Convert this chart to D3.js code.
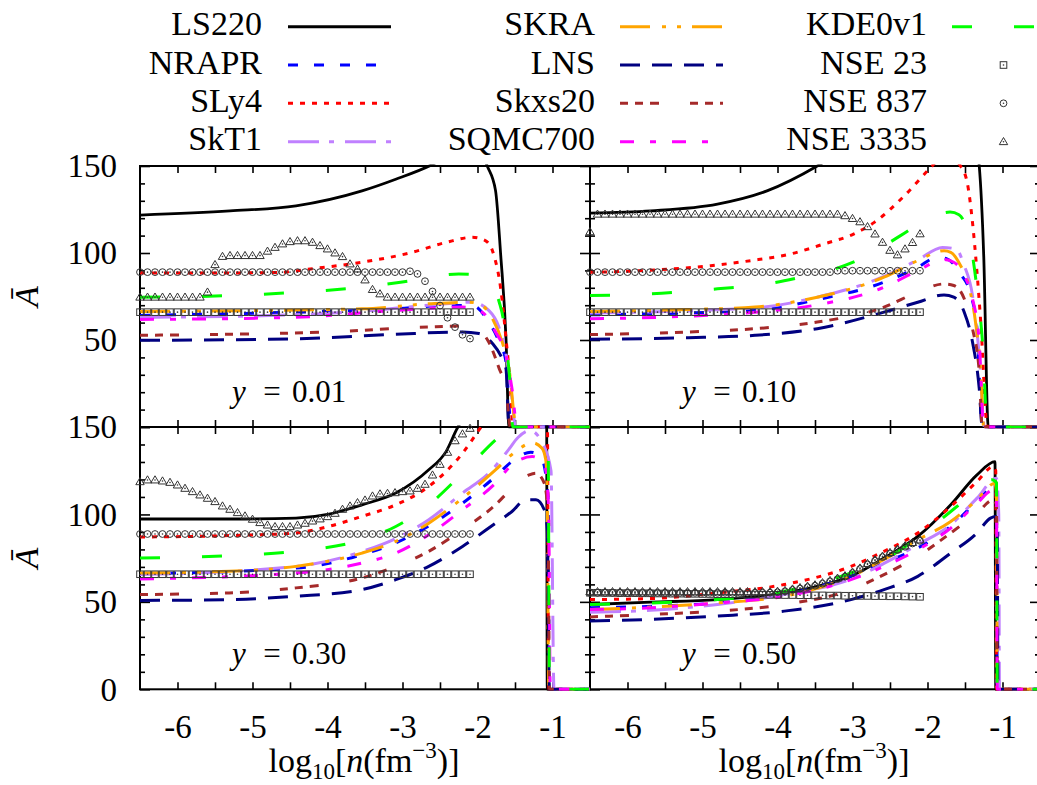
<!DOCTYPE html>
<html><head><meta charset="utf-8">
<script src="https://cdn.jsdelivr.net/npm/d3@7"></script>
<style>
body{margin:0;background:#fff}
svg{display:block}
</style>
</head><body>
<svg id="c" width="1037" height="785" font-family="'Liberation Serif','DejaVu Serif','Noto Serif',serif"></svg>
<script>
// ---------------- DATA ----------------
const seriesNames = ["LS220","NRAPR","SLy4","SkT1","SKRA","LNS","Skxs20","SQMC700","KDE0v1"];
const nseNames = ["NSE 23","NSE 837","NSE 3335"];
const panelYValues = ["0.01","0.10","0.30","0.50"];
const xTickValues = [-6,-5,-4,-3,-2,-1];
const xHalfTicks = [-6,-5.5,-5,-4.5,-4,-3.5,-3,-2.5,-2,-1.5,-1];
const yMajorTicks = [0,50,100,150];
const yMinorTicks = [10,20,30,40,60,70,80,90,110,120,130,140];

// log10 n grid of the NSE points
const nseLogN = [-6.5,-6.4,-6.3,-6.2,-6.1,-6.0,-5.9,-5.8,-5.7,-5.6,-5.5,-5.4,-5.3,-5.2,-5.1,-5.0,-4.9,-4.8,-4.7,-4.6,-4.5,-4.4,-4.3,-4.2,-4.1,-4.0,-3.9,-3.8,-3.7,-3.6,-3.5,-3.4,-3.3,-3.2,-3.1,-3.0,-2.9,-2.8,-2.7,-2.6,-2.5,-2.4,-2.3,-2.2,-2.1];

// ---- y = 0.01 ----
const LS220_y001 = [[-6.5,121.8],[-5.3,124.2],[-4.42,127.1],[-3.54,135.7],[-3.09,142.4],[-2.62,150.5],[-2.3,158],[-2.05,162],[-1.95,158],[-1.87,150],[-1.76,136],[-1.69,98.5],[-1.62,50.8],[-1.58,0],[-0.5,0]];
const NRAPR_y001 = [[-6.5,64.1],[-4.42,66],[-3.09,67.9],[-2.42,69.8],[-2.07,69.8],[-1.85,60.3],[-1.71,48.8],[-1.62,37.4],[-1.55,0],[-0.5,0]];
const SLy4_y001 = [[-6.5,88.5],[-5.5,88.5],[-4.65,88.8],[-4.2,91],[-3.54,94.7],[-2.87,100.4],[-2.42,106.1],[-2.07,109],[-1.89,107],[-1.78,98.5],[-1.69,79.4],[-1.62,50.8],[-1.56,22],[-1.53,0],[-0.5,0]];
const SkT1_y001 = [[-6.5,63],[-4.42,64.5],[-3.54,66.5],[-2.65,70],[-2.07,71.7],[-1.85,67],[-1.72,58],[-1.62,42],[-1.55,20],[-1.49,0],[-0.5,0]];
const SKRA_y001 = [[-6.5,66.4],[-3.54,67.9],[-2.65,70.8],[-2.11,71.7],[-1.94,69.8],[-1.8,62.2],[-1.67,48.8],[-1.58,33.5],[-1.48,0],[-0.5,0]];
const LNS_y001 = [[-6.5,49.8],[-4.42,50.7],[-3.09,53.3],[-2.2,54.6],[-1.98,53.7],[-1.8,48],[-1.69,41],[-1.62,33.5],[-1.58,0],[-0.5,0]];
const Skxs20_y001 = [[-6.5,52.7],[-5.31,53.3],[-4.0,54.6],[-2.65,57.5],[-2.2,58],[-1.98,55.6],[-1.85,48.8],[-1.71,33.5],[-1.62,22],[-1.56,0],[-0.5,0]];
const SQMC700_y001 = [[-6.5,61.8],[-4.42,63.1],[-3.09,67],[-2.2,68.9],[-1.94,66],[-1.76,54.6],[-1.62,41],[-1.54,22],[-1.47,0],[-0.5,0]];
const KDE0v1_y001 = [[-6.5,74.6],[-5.31,75.5],[-4.42,77.4],[-3.54,80.3],[-2.87,84.1],[-2.25,87.9],[-1.98,87.3],[-1.85,83],[-1.71,71.7],[-1.65,60.3],[-1.6,41],[-1.56,22],[-1.53,0],[-0.5,0]];
const NSE23_y001 = [66,66,66,66,66,66,66,66,66,66,66,66,66,66,66,66,66,66,66,66,66,66,66,66,66,66,66,66,66,66,66,66,66,66,66,66,66,66,66,66,66,66,66,66,66];
const NSE837_y001 = [89,89,89,89,89,89,89,89,89,89,89,89,89,89,89,89,89,89,89,89,89,89,89,89,89,89,89,89,89,89,89,89,89,89,89,89,89.5,88,83.8,77.9,69.8,62.8,57.4,53,50.8];
const NSE3335_y001 = [74.6,74.6,74.6,74.6,74.6,74.6,74.6,74.6,74.6,77.5,93.3,98,98.5,98.5,98.5,98.5,98.5,101,103.2,105.2,106.5,107,107,106.1,104.2,102.3,100,97.9,93.7,90.8,84.5,79,76.5,74.6,74.6,74.6,74.6,74.6,74.6,74.6,74.6,74.6,74.6,74.6,74.6];

// ---- y = 0.10 ----
const LS220_y010 = [[-6.5,122.9],[-5.69,124.2],[-4.8,128.1],[-4.14,135.7],[-3.47,150],[-3.0,163],[-2.5,178],[-2.0,190],[-1.6,192],[-1.42,178],[-1.31,150],[-1.25,98],[-1.19,0],[-0.5,0]];
const NRAPR_y010 = [[-6.5,64.5],[-4.3,67],[-3.47,73.2],[-2.58,83.2],[-2.13,91.8],[-1.87,97.5],[-1.74,96.6],[-1.56,88],[-1.42,75.6],[-1.34,56.5],[-1.27,0],[-0.5,0]];
const SLy4_y010 = [[-6.5,88.9],[-5.78,89.9],[-4.89,92.7],[-4.36,95.6],[-3.83,99.4],[-3.38,105.2],[-2.98,111],[-2.71,117.6],[-2.31,132.8],[-1.96,149],[-1.76,157],[-1.56,150],[-1.47,140.4],[-1.40,117.6],[-1.34,88.9],[-1.29,60.3],[-1.2,0],[-0.5,0]];
const SkT1_y010 = [[-6.5,65.5],[-4.3,68.5],[-3.47,74.6],[-2.58,86.5],[-2.13,96],[-1.8,103.2],[-1.62,102.3],[-1.51,92.8],[-1.4,75.6],[-1.31,41],[-1.24,0],[-0.5,0]];
const SKRA_y010 = [[-6.5,66.4],[-5.19,67.5],[-4.3,68.9],[-3.47,74.6],[-3.02,79.4],[-2.58,86.1],[-2.13,95.6],[-1.78,101.3],[-1.69,100.4],[-1.56,92.8],[-1.45,81.3],[-1.36,60.3],[-1.29,31.7],[-1.25,0],[-0.5,0]];
const LNS_y010 = [[-6.5,50.4],[-5.19,51.3],[-4.3,52.7],[-3.47,56.5],[-2.58,66],[-2.13,71.7],[-1.78,75.9],[-1.65,74.6],[-1.51,66],[-1.4,48.8],[-1.31,22],[-1.27,0],[-0.5,0]];
const Skxs20_y010 = [[-6.5,53.1],[-5.19,54.6],[-4.3,56.5],[-3.47,60.3],[-2.58,68.9],[-2.13,77.5],[-1.78,82.2],[-1.65,81.3],[-1.51,73.7],[-1.4,56.5],[-1.31,31.7],[-1.27,0],[-0.5,0]];
const SQMC700_y010 = [[-6.5,62.2],[-5.19,63.7],[-4.3,66],[-3.47,70.2],[-2.58,80.3],[-2.13,89.9],[-1.78,96.2],[-1.65,94.7],[-1.51,87.1],[-1.4,73.7],[-1.31,48.8],[-1.25,0],[-0.5,0]];
const KDE0v1_y010 = [[-6.5,75.6],[-5.69,76.5],[-4.8,79.4],[-4.14,82.2],[-3.69,86.1],[-3.24,90.8],[-2.8,98.5],[-2.36,110],[-2.0,119.5],[-1.7,123.5],[-1.58,122],[-1.51,117.6],[-1.4,98.5],[-1.34,79.4],[-1.27,50.8],[-1.2,0],[-0.5,0]];
const NSE23_y010 = [66,66,66,66,66,66,66,66,66,66,66,66,66,66,66,66,66,66,66,66,66,66,66,66,66,66,66,66,66,66,66,66,66,66,66,66,66,66,66,66,66,66,66,66,66];
const NSE837_y010 = [89,89,89,89,89,89,89,89,89,89,89,89,89,89,89,89,89,89,89,89,89,89,89,89,89,89,89,89,89,89,89,89,89,89.8,89.8,89.8,89.8,89.8,89.8,89.8,89.8,89.8,89.8,89.8,89.8];
const NSE3335_y010 = [112.2,122.3,122.3,122.3,122.3,122.3,122.3,122.3,122.3,122.3,122.3,122.3,122.3,122.3,122.3,122.3,122.3,122.3,122.3,122.3,122.3,122.3,122.3,122.3,122.3,122.3,122.3,122.3,122.3,122.3,122.3,122.3,122.3,122.3,121.4,119.8,117.9,115.1,110.9,106.1,101.5,98.9,102.3,106,111];

// ---- y = 0.30 ----
const LS220_y030 = [[-6.5,97.4],[-5.09,97.4],[-4.42,97.9],[-3.98,100.2],[-3.54,105.5],[-3.09,112.2],[-2.65,125.5],[-2.42,135.9],[-2.27,149.3],[-2.0,165],[-1.6,185],[-1.3,198],[-1.1,200],[-1.08,190],[-1.07,0],[-0.5,0]];
const NRAPR_y030 = [[-6.5,66.1],[-4.42,69.3],[-3.54,77],[-3.09,83.7],[-2.65,93.5],[-2.2,106.4],[-1.76,121.7],[-1.54,130.3],[-1.29,135.6],[-1.16,133.1],[-1.1,125.5],[-1.06,110],[-1.04,0],[-0.5,0]];
const SLy4_y030 = [[-6.5,87.1],[-5.31,87.9],[-4.42,89.4],[-3.98,93.2],[-3.54,98.9],[-3.09,105.5],[-2.65,116],[-2.42,124.5],[-2.2,135],[-1.98,148.3],[-1.7,165],[-1.4,175],[-1.15,172],[-1.07,165],[-1.05,0],[-0.5,0]];
const SkT1_y030 = [[-6.5,65.6],[-4.42,70.3],[-3.54,78.8],[-3.09,86.2],[-2.65,97],[-2.2,112.2],[-1.83,124.4],[-1.59,136.8],[-1.46,144],[-1.3,148],[-1.15,142],[-1.02,125],[-0.98,0],[-0.5,0]];
const SKRA_y030 = [[-6.5,66.5],[-5.31,67.5],[-4.42,70.3],[-3.54,77.9],[-3.09,84.6],[-2.65,95],[-2.2,109.3],[-1.76,125.5],[-1.49,136],[-1.27,141],[-1.14,137.9],[-1.09,131.2],[-1.07,110],[-1.05,0],[-0.5,0]];
const LNS_y030 = [[-6.5,50.8],[-5.31,51.3],[-4.42,53.2],[-3.54,57],[-3.09,62.7],[-2.65,70.3],[-2.2,81.7],[-1.76,95],[-1.54,101.7],[-1.36,108.4],[-1.22,108.4],[-1.11,102.7],[-1.07,91.3],[-1.04,0],[-0.5,0]];
const Skxs20_y030 = [[-6.5,54.2],[-5.31,55.1],[-4.42,58],[-3.54,63.7],[-3.09,70.3],[-2.65,78.9],[-2.2,91.3],[-1.76,105.5],[-1.54,115],[-1.31,122.6],[-1.22,123.6],[-1.11,117.9],[-1.06,100],[-1.04,0],[-0.5,0]];
const SQMC700_y030 = [[-6.5,63.1],[-4.42,66.5],[-3.54,72.2],[-3.09,77.9],[-2.65,88.4],[-2.2,102.7],[-1.76,117.9],[-1.54,128.4],[-1.27,133.1],[-1.14,130.2],[-1.09,125.5],[-1.05,100],[-1.03,0],[-0.5,0]];
const KDE0v1_y030 = [[-6.5,75.1],[-5.31,76.4],[-4.42,78.9],[-3.54,85.5],[-3.09,93.1],[-2.65,105.5],[-2.2,123.6],[-1.76,142.6],[-1.56,150],[-1.3,158],[-1.1,155],[-1.06,150],[-1.04,0],[-0.5,0]];
const NSE23_y030 = [65.8,65.8,65.8,65.8,65.8,65.8,65.8,65.8,65.8,65.8,65.8,65.8,65.8,65.8,65.8,65.8,65.8,65.8,65.8,65.8,65.8,65.8,65.8,65.8,65.8,65.8,65.8,65.8,65.8,65.8,65.8,65.8,65.8,65.8,65.8,65.8,65.8,65.8,65.8,65.8,65.8,65.8,65.8,65.8,65.8];
const NSE837_y030 = [88.8,88.8,88.8,88.8,88.8,88.8,88.8,88.8,88.8,88.8,88.8,88.8,88.8,88.8,88.8,88.8,88.8,88.8,88.8,88.8,88.8,88.8,88.8,88.8,88.8,88.8,88.8,88.8,88.8,88.8,88.8,88.8,88.8,88.8,88.8,88.8,88.8,88.8,88.8,88.8,88.8,88.8,88.8,88.8,88.8];
const NSE3335_y030 = [118.7,119.7,119.7,119.1,118.3,116.8,114.9,113,111.1,109.2,107.3,104.8,102.9,101,99.1,97.2,95.3,93.9,93,93,93,93.9,94.9,96.2,97.4,98.7,100.6,102.9,104.8,106.7,108.2,110.5,111.7,112,112.4,113,113.4,114.9,117.2,122.5,128.6,135.5,142.1,146,149.2];

// ---- y = 0.50 ----
const LS220_y050 = [[-6.5,48.5],[-5.69,49.8],[-4.8,51.3],[-3.91,55.1],[-3.47,58.9],[-3.02,64.6],[-2.58,75.1],[-2.13,87.4],[-1.69,105.5],[-1.34,122.6],[-1.1,130.2],[-1.09,0],[-0.5,0]];
const NRAPR_y050 = [[-6.5,46.6],[-4.8,49.4],[-3.91,54.2],[-3.02,64.6],[-2.58,72.3],[-2.13,80.8],[-1.69,93.2],[-1.34,107.5],[-1.1,116],[-1.08,110],[-1.07,0],[-0.5,0]];
const SLy4_y050 = [[-6.5,51.3],[-5.69,51.9],[-4.8,55.1],[-3.91,59.9],[-3.02,70.3],[-2.58,78.9],[-2.13,89.4],[-1.69,104.5],[-1.34,118.8],[-1.12,127.4],[-1.09,125],[-1.08,0],[-0.5,0]];
const SkT1_y050 = [[-6.5,44.1],[-5.69,45.2],[-4.8,48.5],[-3.91,54.2],[-3.02,63],[-2.58,72],[-2.13,82.7],[-1.69,94.1],[-1.34,109.3],[-1.08,120.7],[-1.05,100],[-1.04,0],[-0.5,0]];
const SKRA_y050 = [[-6.5,45.6],[-5.69,47],[-4.8,49.4],[-3.91,53.2],[-3.02,64.6],[-2.58,74.2],[-2.13,85.5],[-1.69,96],[-1.34,108.4],[-1.1,117.9],[-1.08,110],[-1.07,0],[-0.5,0]];
const LNS_y050 = [[-6.5,39],[-5.69,40],[-4.8,41.9],[-3.91,44.7],[-3.02,51.3],[-2.58,57],[-2.13,64.6],[-1.69,77.9],[-1.34,89.4],[-1.16,97.9],[-1.09,98.8],[-1.07,90],[-1.06,0],[-0.5,0]];
const Skxs20_y050 = [[-6.5,41.4],[-5.69,42.8],[-4.8,44.7],[-3.91,48.5],[-3.02,57],[-2.58,65.6],[-2.13,76.1],[-1.69,89.4],[-1.34,100.8],[-1.12,108.4],[-1.08,105],[-1.07,0],[-0.5,0]];
const SQMC700_y050 = [[-6.5,45.6],[-5.69,46.6],[-4.8,49.4],[-3.91,53.2],[-3.02,62.7],[-2.58,70.3],[-2.13,79.8],[-1.69,92.2],[-1.34,106.4],[-1.12,114],[-1.08,110],[-1.07,0],[-0.5,0]];
const KDE0v1_y050 = [[-6.5,48.5],[-4.8,51.3],[-3.91,56.1],[-3.02,66.5],[-2.58,74.2],[-2.13,86.5],[-1.69,101.7],[-1.47,109.3],[-1.14,119.8],[-1.08,118],[-1.07,0],[-0.5,0]];
const NSE23_y050 = [55.2,55.2,55.1,55.1,55,55,55,54.9,54.9,54.8,54.8,54.7,54.7,54.6,54.6,54.5,54.5,54.4,54.4,54.3,54.3,54.2,54.2,54.1,54,54,53.9,53.9,53.8,53.8,53.7,53.7,53.6,53.6,53.5,53.5,53.4,53.4,53.3,53.3,53.2,53.2,53.1,53,52.9];
const NSE837_y050 = [55.2,55.2,55.2,55.2,55.2,55.2,55.2,55.2,55.2,55.2,55.2,55.2,55.2,55.2,55.2,55.2,55.2,55.2,55.2,55.2,55.2,55.2,55.2,55.2,55.2,55.5,56,56.8,57.6,58.4,59.2,60.4,61.7,63,64.4,66.5,68.8,71.4,73.5,75.6,77.7,79.6,81.5,83.4,84.9];
const NSE3335_y050 = [55.8,55.8,55.8,55.8,55.8,55.8,55.8,55.8,55.8,55.8,55.8,55.8,55.8,55.8,55.8,55.8,55.8,55.8,55.8,55.8,55.8,55.8,55.8,55.8,55.8,56,56.5,57.3,58.1,58.9,59.7,60.9,62.2,63.5,64.9,67,69.3,71.9,74,76.1,78.2,80.1,82,83.9,85.4];

// ---------------- STYLES / LAYOUT ----------------
const FONT = "'Liberation Serif','DejaVu Serif','Noto Serif',serif";
const lineStyle = {
  "LS220":  {color:"#000000", dash:null},
  "NRAPR":  {color:"#0000ff", dash:"10,16"},
  "SLy4":   {color:"#ff0000", dash:"5,7"},
  "SkT1":   {color:"#c080ff", dash:"31,10,5,11"},
  "SKRA":   {color:"#ffa500", dash:"30,12,4,11,4,11"},
  "LNS":    {color:"#000080", dash:"20,12"},
  "Skxs20": {color:"#a52a2a", dash:"8,7,8,7,9,31"},
  "SQMC700":{color:"#ff00ff", dash:"14,16,6,16"},
  "KDE0v1": {color:"#00ff00", dash:"20,42"}
};
const markerShape = {"NSE 23":"square","NSE 837":"circle","NSE 3335":"triangle"};

const panels = [
  {yv:panelYValues[0], col:0, row:0,
   curves:[LS220_y001,NRAPR_y001,SLy4_y001,SkT1_y001,SKRA_y001,LNS_y001,Skxs20_y001,SQMC700_y001,KDE0v1_y001],
   nse:[NSE23_y001,NSE837_y001,NSE3335_y001]},
  {yv:panelYValues[1], col:1, row:0,
   curves:[LS220_y010,NRAPR_y010,SLy4_y010,SkT1_y010,SKRA_y010,LNS_y010,Skxs20_y010,SQMC700_y010,KDE0v1_y010],
   nse:[NSE23_y010,NSE837_y010,NSE3335_y010]},
  {yv:panelYValues[2], col:0, row:1,
   curves:[LS220_y030,NRAPR_y030,SLy4_y030,SkT1_y030,SKRA_y030,LNS_y030,Skxs20_y030,SQMC700_y030,KDE0v1_y030],
   nse:[NSE23_y030,NSE837_y030,NSE3335_y030]},
  {yv:panelYValues[3], col:1, row:1,
   curves:[LS220_y050,NRAPR_y050,SLy4_y050,SkT1_y050,SKRA_y050,LNS_y050,Skxs20_y050,SQMC700_y050,KDE0v1_y050],
   nse:[NSE23_y050,NSE837_y050,NSE3335_y050]}
];

const colRange = [[140,590],[590,1040]];
const rowRange = [[427,166],[689.3,427]];

const svg = d3.select("#c");
const defs = svg.append("defs");
const gAxes = svg.append("g");
const gCurves = svg.append("g");
const gMarks = svg.append("g");
const gText = svg.append("g").attr("font-family",FONT);

function drawMarker(g, shape, cx, cy){
  const st = "#333";
  if(shape==="square"){
    g.append("rect").attr("x",cx-3.3).attr("y",cy-3.3).attr("width",6.6).attr("height",6.6)
     .attr("fill","none").attr("stroke",st).attr("stroke-width",1);
  } else if(shape==="circle"){
    g.append("circle").attr("cx",cx).attr("cy",cy).attr("r",3.4)
     .attr("fill","none").attr("stroke",st).attr("stroke-width",1);
  } else {
    const s=4.2;
    g.append("path").attr("d",`M${cx},${cy-s}L${cx+s},${cy+s*0.7}L${cx-s},${cy+s*0.7}Z`)
     .attr("fill","none").attr("stroke",st).attr("stroke-width",1);
  }
  g.append("circle").attr("cx",cx).attr("cy",cy).attr("r",0.8).attr("fill",st);
}

function styleAxis(g){
  g.select(".domain").remove();
  g.attr("font-family",FONT).attr("font-size",33);
  g.selectAll(".tick line").attr("stroke","#000").attr("stroke-width",1.6);
  g.selectAll(".tick text").attr("fill","#000");
}

panels.forEach((p,pi)=>{
  const xs = d3.scaleLinear().domain([-6.5,-0.5]).range(colRange[p.col]);
  const ys = d3.scaleLinear().domain([0,150]).range(rowRange[p.row]);
  const [xa,xb] = xs.range();
  const [yb,ya] = ys.range();

  // ticks via d3 axes (inward)
  gAxes.append("g").attr("transform",`translate(0,${yb})`)
    .call(d3.axisBottom(xs).tickValues(xHalfTicks).tickSize(-7).tickFormat(""))
    .call(styleAxis);
  gAxes.append("g").attr("transform",`translate(0,${ya})`)
    .call(d3.axisTop(xs).tickValues(xHalfTicks).tickSize(-7).tickFormat(""))
    .call(styleAxis);
  gAxes.append("g").attr("transform",`translate(${xa},0)`)
    .call(d3.axisLeft(ys).tickValues(yMinorTicks).tickSize(-5).tickFormat(""))
    .call(styleAxis);
  gAxes.append("g").attr("transform",`translate(${xb},0)`)
    .call(d3.axisRight(ys).tickValues(yMinorTicks).tickSize(-5).tickFormat(""))
    .call(styleAxis);
  gAxes.append("g").attr("transform",`translate(${xb},0)`)
    .call(d3.axisRight(ys).tickValues(yMajorTicks).tickSize(-10).tickFormat(""))
    .call(styleAxis);
  const showY = p.col===0;
  const yLabTicks = p.row===0 ? yMajorTicks.filter(v=>v>0) : yMajorTicks;
  gAxes.append("g").attr("transform",`translate(${xa},0)`)
    .call(d3.axisLeft(ys).tickValues(yMajorTicks).tickSize(-10).tickPadding(23)
      .tickFormat(v => (showY && yLabTicks.includes(v)) ? String(v) : ""))
    .call(styleAxis)
    .call(g=>g.selectAll(".tick text").attr("dy","0.33em"));
  if(p.row===1){
    gAxes.append("g").attr("transform",`translate(0,${yb})`)
      .call(d3.axisBottom(xs).tickValues(xTickValues).tickSize(0).tickPadding(25).tickFormat(v=>String(v)))
      .call(styleAxis)
      .call(g=>g.selectAll(".tick line").remove());
  }
  // border
  gAxes.append("rect").attr("x",xa).attr("y",ya).attr("width",xb-xa).attr("height",yb-ya)
    .attr("fill","none").attr("stroke","#000").attr("stroke-width",2);

  // clip + curves
  const cid = "clip"+pi;
  defs.append("clipPath").attr("id",cid).append("rect")
    .attr("x",xa-1.5).attr("y",ya-1.5).attr("width",xb-xa+3).attr("height",yb-ya+3);
  const gc = gCurves.append("g").attr("clip-path",`url(#${cid})`);
  const line = d3.line().x(d=>xs(d[0])).y(d=>ys(d[1])).curve(d3.curveMonotoneX);
  seriesNames.forEach((name,k)=>{
    const st = lineStyle[name];
    gc.append("path").datum(p.curves[k]).attr("d",line)
      .attr("fill","none").attr("stroke",st.color)
      .attr("stroke-width",name==="LS220"?2.8:3)
      .attr("stroke-dasharray",st.dash);
  });

  // NSE markers
  nseNames.forEach((name,k)=>{
    const vals = p.nse[k];
    const gm = gMarks.append("g");
    vals.forEach((v,i)=> drawMarker(gm, markerShape[name], xs(nseLogN[i]), ys(v)));
  });

  // panel label  y = ...
  const by = yb - 25;
  gText.append("text").attr("x",xa+92).attr("y",by).attr("font-size",31).attr("font-style","italic").text("y");
  gText.append("text").attr("x",xa+132).attr("y",by).attr("text-anchor","middle").attr("font-size",31).text("=");
  gText.append("text").attr("x",xa+152).attr("y",by).attr("font-size",31).text(p.yv);

  // x axis title
  if(p.row===1){
    const cx = (xa+xb)/2 - 1;
    const t = gText.append("text").attr("x",cx).attr("y",772).attr("text-anchor","middle").attr("font-size",34);
    t.append("tspan").text("log");
    t.append("tspan").attr("dy",7).attr("font-size",23).text("10");
    t.append("tspan").attr("dy",-7).text("[");
    t.append("tspan").attr("font-style","italic").text("n");
    t.append("tspan").text("(fm");
    t.append("tspan").attr("dy",-14).attr("font-size",23).text("\u22123");
    t.append("tspan").attr("dy",14).text(")]");
  }
  // y axis title
  if(p.col===0){
    const cy = (ya+yb)/2;
    gText.append("text").attr("transform",`translate(27,${cy}) rotate(-90)`)
      .attr("text-anchor","middle").attr("dy","0.33em")
      .attr("font-size",34).attr("font-style","italic").text("\u0100");
  }
});

// ---------------- LEGEND ----------------
const legendNames = seriesNames.concat(nseNames);
const legTextX = [262,595,927];
const legLineX = [288,620,952];
const legRowY = [26.7,65,103.3,141.7];
const gLeg = svg.append("g").attr("font-family",FONT);
legendNames.forEach((name,i)=>{
  const c = Math.floor(i/4), r = i%4;
  const y = legRowY[r];
  gLeg.append("text").attr("x",legTextX[c]).attr("y",y+8.5).attr("text-anchor","end")
    .attr("font-size",34).text(name);
  if(lineStyle[name]){
    const st = lineStyle[name];
    gLeg.append("line").attr("x1",legLineX[c]).attr("x2",legLineX[c]+103).attr("y1",y).attr("y2",y)
      .attr("stroke",st.color).attr("stroke-width",3).attr("stroke-dasharray",st.dash);
  } else {
    drawMarker(gLeg, markerShape[name], legLineX[c]+51.5, y);
  }
});
</script>
</body></html>
